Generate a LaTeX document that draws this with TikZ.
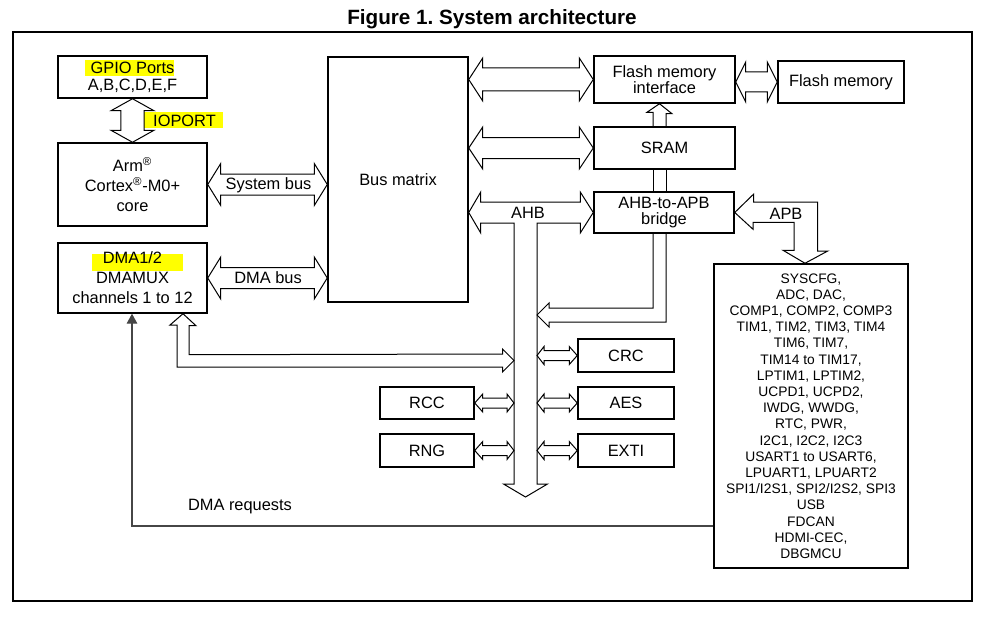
\documentclass[tikz,border=0pt]{standalone}
\usepackage{fontspec}
\setmainfont{Liberation Sans}
\usetikzlibrary{calc,arrows.meta}
\definecolor{hlyellow}{RGB}{255,255,0}
\definecolor{reqgray}{RGB}{70,70,70}
\frenchspacing
\newcommand\fs[1]{\fontsize{12.3pt}{#1pt}\selectfont}
\newcommand\hdbl[6]{% #1 left point, #2 right point, #3 shaft half, #4 head half, #5 left head length, #6 right head length
  \draw[fat] (#1) -- ($(#1)+(#5,-#4)$) -- ($(#1)+(#5,-#3)$) -- ($(#2)+(-#6,-#3)$) -- ($(#2)+(-#6,-#4)$) -- (#2)
    -- ($(#2)+(-#6,#4)$) -- ($(#2)+(-#6,#3)$) -- ($(#1)+(#5,#3)$) -- ($(#1)+(#5,#4)$) -- cycle;}
\newcommand\vdbl[6]{% #1 top point, #2 bottom point
  \draw[fat] (#1) -- ($(#1)+(#4,#5)$) -- ($(#1)+(#3,#5)$) -- ($(#2)+(#3,-#6)$) -- ($(#2)+(#4,-#6)$) -- (#2)
    -- ($(#2)+(-#4,-#6)$) -- ($(#2)+(-#3,-#6)$) -- ($(#1)+(-#3,#5)$) -- ($(#1)+(-#4,#5)$) -- cycle;}
\begin{document}
\begin{tikzpicture}[x=0.75pt,y=-0.75pt,
  box/.style={draw,line width=1.1pt,inner sep=0pt,align=center,font=\fs{15}},
  fat/.style={draw,line width=0.75pt,line join=miter},
  lbl/.style={font=\fs{15},anchor=base,inner sep=0pt},
  hl/.style={fill=hlyellow,draw=none},
  frame/.style={draw,line width=1pt},
  req/.style={draw=reqgray,line width=0.8pt},
  sz/.style 2 args={minimum width=#1*0.75pt,minimum height=#2*0.75pt}]
\useasboundingbox (0,0) rectangle (992,617);

% title and frame
\node[font=\bfseries\fontsize{15.5pt}{18pt}\selectfont,anchor=base,inner sep=0pt] (title) at (492,24.3) {Figure 1. System architecture};
\draw[frame] (13,32) rectangle (972,601);

% highlights
\fill[hl] (85,60) rectangle (174,76);
\fill[hl] (144,112) rectangle (223,128);
\fill[hl] (92,254) rectangle (183,271);

% boxes
\node[box,sz={149}{42},font=\fs{12.75}] (gpio) at (132.5,77) {GPIO Ports\\A,B,C,D,E,F};
\node[box,sz={149}{83}] (arm) at (132.5,184.5) {Arm\textsuperscript{®}\\Cortex\textsuperscript{®}-M0+\\core};
\node[box,sz={149}{70}] (dma) at (132.5,278) {DMA1/2\\DMAMUX\\channels 1 to 12};
\node[box,sz={140}{245}] (bm) at (398,179.5) {Bus matrix};
\node[box,sz={141}{47},font=\fs{11.6}] (fmi) at (664.5,79.5) {Flash memory\\interface};
\node[box,sz={126}{42}] (flash) at (841,82) {Flash memory};
\node[box,sz={141}{42}] (sram) at (664.5,148) {SRAM};
\node[box,sz={140}{41},font=\fs{12}] (bridge) at (664,212.5) {AHB-to-APB\\bridge};
\node[box,sz={96}{33}] (crc) at (626,355.5) {CRC};
\node[box,sz={96}{32}] (aes) at (626,403) {AES};
\node[box,sz={96}{33}] (exti) at (626,450.5) {EXTI};
\node[box,sz={94}{32}] (rcc) at (427,403) {RCC};
\node[box,sz={94}{33}] (rng) at (427,450.5) {RNG};
\node[box,sz={194}{304},font=\fontsize{10.35pt}{12.15pt}\selectfont] (periph) at (811,416) {SYSCFG,\\ADC, DAC,\\COMP1, COMP2, COMP3\\TIM1, TIM2, TIM3, TIM4\\TIM6, TIM7,\\TIM14 to TIM17,\\LPTIM1, LPTIM2,\\UCPD1, UCPD2,\\IWDG, WWDG,\\RTC, PWR,\\I2C1, I2C2, I2C3\\USART1 to USART6,\\LPUART1, LPUART2\\SPI1/I2S1, SPI2/I2S2, SPI3\\USB\\FDCAN\\HDMI-CEC,\\DBGMCU};

% helper coordinates
\coordinate (sbR) at (bm.west |- arm.east);
\coordinate (dbR) at (bm.west |- dma.east);
\coordinate (fmL) at (bm.east |- fmi.west);
\coordinate (flL) at (fmi.east |- flash.west);
\coordinate (srL) at (bm.east |- sram.west);
\coordinate (ahbL) at (bm.east |- bridge.west);
\coordinate (ahbB) at ($(ahbL)+(0,10.5)$);
\coordinate (busL) at (514,484);
\coordinate (busR) at (537,484);
\coordinate (busTip) at (525.5,497);
\coordinate (crcL) at (busR |- crc.west);
\coordinate (aesL) at (busR |- aes.west);
\coordinate (extiL) at (busR |- exti.west);
\coordinate (rccR) at (busL |- rcc.east);
\coordinate (rngR) at (busL |- rng.east);
\coordinate (cL) at ($(bridge.south)+(-11,0)$);
\coordinate (cR) at ($(bridge.south)+(2,0)$);
\coordinate (fmTip) at ($(fmi.south)+(-5,0)$);
\coordinate (brTip) at (537,315);
\coordinate (apbTip) at ($(periph.north)+(-6,0)$);
\coordinate (dmTip) at ($(dma.south)+(50.5,0)$);
\coordinate (dbTip) at (514,360.5);
\coordinate (rq) at ($(periph.west)+(0,110)$);
\coordinate (rqT) at ($(dma.south)+(-0.5,0)$);

% block arrows
\vdbl{gpio.south}{arm.north}{11.7}{21.5}{12}{12}
\hdbl{arm.east}{sbR}{10.5}{21}{13}{13}
\hdbl{dma.east}{dbR}{10.5}{21}{13}{13}
\hdbl{fmL}{fmi.west}{11.5}{21.5}{14}{14}
\hdbl{flL}{flash.west}{10}{20}{10}{10}
\hdbl{srL}{sram.west}{10.5}{21}{14}{14}
\hdbl{crcL}{crc.west}{5}{9}{7}{8}
\hdbl{aesL}{aes.west}{5}{9}{7}{8}
\hdbl{extiL}{exti.west}{5}{9}{7}{8}
\hdbl{rcc.east}{rccR}{5}{9}{8}{7}
\hdbl{rng.east}{rngR}{5}{9}{8}{7}

% AHB bus with downward trunk
\draw[fat] (ahbL) -- ++(12,-20.5) -- ++(0,10) -- ($(bridge.west)+(-13,-10.5)$) -- ++(0,-10) -- (bridge.west)
  -- ++(-13,20.5) -- ++(0,-10) -- (busR |- ahbB) -- (busR) -- ++(10.5,0) -- (busTip) -- ($(busL)+(-10.5,0)$)
  -- (busL) -- (busL |- ahbB) -- ($(ahbL)+(12,10.5)$) -- ++(0,10) -- cycle;

% SRAM -> flash interface, SRAM - bridge, bridge -> AHB
\draw[fat] (cL |- sram.north) -- ++(0,-14) -- ++(-6,0) -- (fmTip) -- ++(12.5,10) -- ++(-6,0) -- (cR |- sram.north);
\draw[fat] (cL |- sram.south) -- (cL |- bridge.north);
\draw[fat] (cR |- sram.south) -- (cR |- bridge.north);
\draw[fat] (cL) |- ($(brTip)+(12,-7)$) -- ++(0,-5) -- (brTip) -- ++(12,12) -- ++(0,-5) -| (cR);

% APB
\draw[fat] (bridge.east) -- ++(19,-18.5) -- ++(0,8) -- ++(64,0) -- ++(0,49) -- ++(10,0) -- (apbTip)
  -- ++(-22,-13) -- ++(11,0) -- ++(0,-28) -- ++(-41,0) -- ++(0,7) -- cycle;

% DMA <-> AHB
\draw[fat] (dmTip) -- ++(13,12) -- ++(-7,0) -- ++(0,29) -- ($(dbTip)+(-11.5,-6.5)$) -- ++(0,-5) -- (dbTip)
  -- ++(-11.5,11.5) -- ++(0,-5) -- ++(-325.5,0) -- ++(0,-42) -- ++(-7,0) -- cycle;

% DMA requests
\draw[req,-{Triangle[length=7.5pt,width=8pt]}] (rq) -| (rqT);

% labels
\node[lbl] (lioport) at (184.5,127) {IOPORT};
\node[lbl] (lsys) at (268.5,189) {System bus};
\node[lbl] (ldma) at (268,283) {DMA bus};
\node[lbl] (lahb) at (528,218) {AHB};
\node[lbl] (lapb) at (786,219) {APB};
\node[lbl] (lreq) at (240,510) {DMA requests};
\end{tikzpicture}
\end{document}
